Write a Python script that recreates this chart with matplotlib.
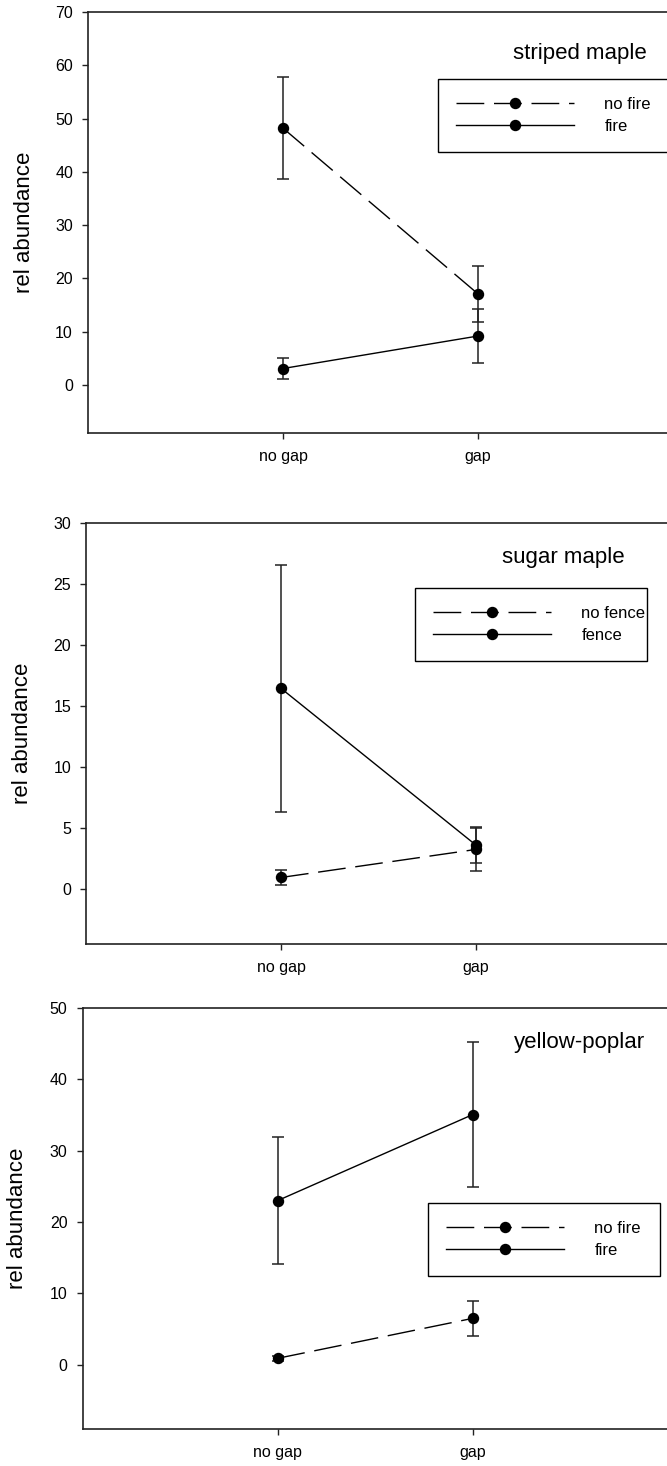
import numpy as np
import matplotlib
matplotlib.use('Agg')
import matplotlib.pyplot as plt

plt.rcParams['font.family'] = ['Liberation Sans', 'DejaVu Sans']

categories = ['no gap', 'gap']
xpos = [1, 2]

# striped maple
sm_nofire = [48.2, 17.1]
sm_nofire_err = [9.6, 5.2]
sm_fire = [3.1, 9.2]
sm_fire_err = [2.0, 5.0]

# sugar maple
sug_nofence = [0.95, 3.25]
sug_nofence_err = [0.6, 1.75]
sug_fence = [16.45, 3.6]
sug_fence_err = [10.1, 1.45]

# yellow-poplar
yp_nofire = [0.9, 6.5]
yp_nofire_err = [0.35, 2.5]
yp_fire = [23.0, 35.05]
yp_fire_err = [8.9, 10.2]

W, H = 667., 1466.
DASH = (0, (20, 7))


def panel(fig, left, top, yticks, ylim, series, title, title_xy, leg_xy, lab_x):
    '''
    Draws one panel. series is a list of (values, errors, dashed, label).
    '''
    ax = fig.add_axes([left / W, 1 - (top + 421) / H, 585 / W, 421 / H])
    handles = []
    for vals, errs, dashed, lab in series:
        ls = DASH if dashed else '-'
        ax.errorbar(xpos, vals, yerr=errs, fmt='none', ecolor='#222222',
                    elinewidth=1.1, capsize=4.3, capthick=1.1, zorder=2)
        h, = ax.plot(xpos, vals, linestyle=ls, color='black', lw=1.0,
                     marker='o', ms=7.2, mfc='black', mec='black', zorder=3,
                     label=lab)
        handles.append(h)
    ax.set_xlim(0, 3)
    ax.set_ylim(*ylim)
    ax.set_xticks(xpos)
    ax.set_xticklabels(categories)
    ax.set_yticks(yticks)
    ax.tick_params(axis='both', direction='out', length=4.3, width=1.0,
                   labelsize=11.5, colors='#222222', labelcolor='black',
                   pad=6.5)
    ax.tick_params(axis='x', pad=7.5)
    for s in ax.spines.values():
        s.set_linewidth(1.2)
        s.set_color('#222222')
    ax.set_ylabel('rel abundance', fontsize=16)
    ax.yaxis.set_label_coords(lab_x, 0.5)
    ax.text(title_xy[0], title_xy[1], title, transform=ax.transAxes,
            fontsize=16, ha='left', va='center')
    leg = ax.legend(handles=handles, loc='upper left',
                    bbox_to_anchor=(leg_xy[0], leg_xy[1] - 0.3, 232 / 585, 0.3),
                    mode='expand', borderaxespad=0, fontsize=12,
                    handlelength=7.1, handletextpad=1.8, borderpad=1.1,
                    labelspacing=0.4, fancybox=False, framealpha=1,
                    edgecolor='black')
    leg.get_frame().set_linewidth(1.0)
    return ax


fig = plt.figure(figsize=(6.67, 14.66), dpi=100)

panel(fig, 88, 12, [0, 10, 20, 30, 40, 50, 60, 70], (-9, 70),
      [(sm_nofire, sm_nofire_err, True, 'no fire'),
       (sm_fire, sm_fire_err, False, 'fire')],
      'striped maple', (0.7265, 0.9026), (0.598, 0.841), -0.09)

panel(fig, 86, 523, [0, 5, 10, 15, 20, 25, 30], (-4.5, 30),
      [(sug_nofence, sug_nofence_err, True, 'no fence'),
       (sug_fence, sug_fence_err, False, 'fence')],
      'sugar maple', (0.711, 0.917), (0.562, 0.846), -0.09)

panel(fig, 82.5, 1008, [0, 10, 20, 30, 40, 50], (-9, 50),
      [(yp_nofire, yp_nofire_err, True, 'no fire'),
       (yp_fire, yp_fire_err, False, 'fire')],
      'yellow-poplar', (0.737, 0.919), (0.590, 0.537), -0.094)

plt.savefig('out.png', dpi=100)
